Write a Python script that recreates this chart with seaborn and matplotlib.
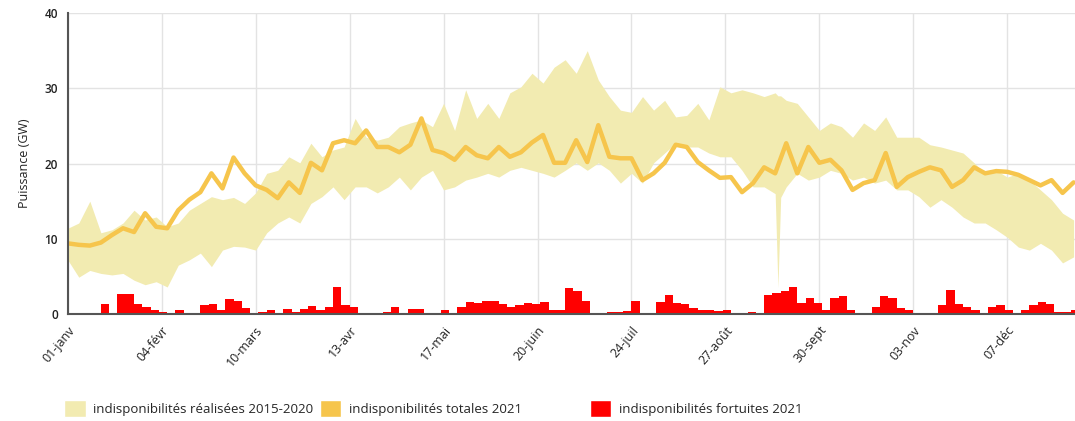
import numpy as np
import pandas as pd
import matplotlib
matplotlib.use("Agg")
import matplotlib.pyplot as plt
import seaborn as sns
from matplotlib.patches import Patch

# Ticks of the x axis (day of year -> label)
jours_ticks = [0, 34, 68, 102, 136, 170, 204, 238, 272, 306, 340]
labels_ticks = ["01-janv", "04-févr", "10-mars", "13-avr", "17-mai", "20-juin",
                "24-juil", "27-août", "30-sept", "03-nov", "07-déc"]

# 2021 total unavailability, every 4 days (GW)
jours_2021 = list(range(0, 365, 4))
totales_2021 = [9.4, 9.2, 9.1, 9.5, 10.5, 11.4, 10.9, 13.4, 11.6, 11.4,
                13.8, 15.2, 16.2, 18.7, 16.7, 20.8, 18.7, 17.1, 16.5, 15.4,
                17.5, 16.1, 20.1, 19.1, 22.7, 23.1, 22.7, 24.4, 22.2, 22.2,
                21.5, 22.5, 26.0, 21.8, 21.4, 20.5, 22.2, 21.1, 20.7, 22.2,
                20.9, 21.5, 22.8, 23.8, 20.1, 20.1, 23.1, 20.2, 25.1, 20.9,
                20.7, 20.7, 17.8, 18.7, 20.1, 22.5, 22.2, 20.2, 19.1, 18.1,
                18.2, 16.2, 17.4, 19.5, 18.7, 22.7, 18.7, 22.2, 20.1, 20.5,
                19.1, 16.5, 17.4, 17.8, 21.4, 16.9, 18.2, 18.9, 19.5, 19.1,
                16.9, 17.8, 19.5, 18.7, 19.0, 18.9, 18.5, 17.8, 17.1, 17.8,
                16.1, 17.5]

# 2015-2020 envelope (min / max), every 4 days plus the late-August dip
jours_bande = list(range(0, 257, 4)) + [257, 258] + list(range(260, 365, 4))
bande_max = [11.4, 12.1, 15.0, 10.8, 11.2, 12.1, 13.8, 12.5, 12.9, 11.6,
             12.1, 13.8, 14.7, 15.6, 15.2, 15.5, 14.7, 16.1, 18.7, 19.1,
             20.9, 20.1, 22.7, 20.9, 21.8, 22.2, 26.0, 23.5, 23.1, 23.5,
             24.9, 25.4, 25.8, 24.9, 28.0, 24.4, 29.8, 26.0, 28.0, 26.0,
             29.4, 30.2, 32.0, 30.7, 32.8, 33.8, 32.0, 35.0, 31.1, 28.9,
             27.1, 26.8, 28.9, 27.1, 28.4, 26.2, 26.4, 28.0, 25.8, 30.2,
             29.4, 29.8, 29.4, 28.9, 29.4, 29.0, 29.0,
             28.4, 28.0, 26.2, 24.4, 25.4, 24.9, 23.5, 25.4, 24.4, 26.2,
             23.5, 23.5, 23.5, 22.5, 22.2, 21.8, 21.4, 20.1, 18.7, 19.1,
             18.2, 18.7, 17.8, 16.5, 15.2, 13.4, 12.5]
bande_min = [7.2, 4.9, 5.8, 5.4, 5.2, 5.4, 4.5, 3.9, 4.3, 3.6,
             6.5, 7.2, 8.1, 6.3, 8.5, 9.0, 8.9, 8.5, 10.8, 12.1,
             12.9, 12.1, 14.7, 15.6, 16.9, 15.2, 16.9, 16.9, 16.1, 16.9,
             18.2, 16.5, 18.2, 19.1, 16.5, 16.9, 17.8, 18.2, 18.7, 18.2,
             19.1, 19.5, 19.1, 18.7, 18.2, 19.1, 20.1, 19.1, 20.1, 19.1,
             17.4, 18.7, 17.4, 20.1, 21.4, 22.7, 22.2, 22.2, 21.4, 20.9,
             20.9, 19.1, 16.9, 16.9, 16.0, 3.5, 15.5,
             16.9, 18.7, 17.8, 18.2, 19.1, 18.7, 17.8, 18.2, 17.4, 17.8,
             16.5, 16.5, 15.6, 14.2, 15.2, 14.2, 12.9, 12.1, 12.1, 11.2,
             10.2, 8.9, 8.5, 9.4, 8.5, 6.8, 7.6]

# 2021 forced outages, every 3 days (GW)
jours_fortuit = list(range(0, 365, 3))
fortuites_2021 = [0, 0, 0, 0, 1.3, 0, 2.7, 2.7, 1.3, 1.0,
                  0.5, 0.3, 0.1, 0.5, 0.2, 0.2, 1.2, 1.3, 0.6, 2.0,
                  1.8, 0.8, 0, 0.3, 0.5, 0, 0.7, 0.3, 0.7, 1.1,
                  0.6, 1.0, 3.6, 1.2, 0.9, 0.1, 0.2, 0, 0.3, 0.9,
                  0.1, 0.7, 0.7, 0.1, 0.2, 0.6, 0.2, 1.0, 1.6, 1.5,
                  1.8, 1.7, 1.4, 1.0, 1.2, 1.5, 1.4, 1.6, 0.6, 0.5,
                  3.5, 3.0, 1.8, 0.1, 0.1, 0.3, 0.3, 0.4, 1.7, 0.2,
                  0.2, 1.6, 2.5, 1.5, 1.3, 0.8, 0.6, 0.5, 0.4, 0.6,
                  0.1, 0, 0.3, 0.1, 2.6, 2.8, 3.0, 3.6, 1.5, 2.1,
                  1.5, 0.6, 2.2, 2.4, 0.5, 0.1, 0.1, 1.0, 2.4, 2.2,
                  0.8, 0.5, 0, 0.1, 0.1, 1.2, 3.2, 1.4, 0.9, 0.5,
                  0.1, 1.0, 1.2, 0.5, 0.1, 0.6, 1.2, 1.6, 1.4, 0.3,
                  0.3, 0.6]

df_tot = pd.DataFrame({"jour": jours_2021, "GW": totales_2021})

# colours
c_bande = "#f2ebb1"
c_tot = "#f6c54c"
c_fort = "#ff0000"

sns.set_theme(style="whitegrid")
plt.rcParams["font.family"] = ["Open Sans", "DejaVu Sans"]

fig = plt.figure(figsize=(10.75, 4.21), dpi=100)
ax = fig.add_axes([0.063, 0.254, 0.937, 0.715])

ax.fill_between(jours_bande, bande_min, bande_max, color=c_bande, linewidth=0, zorder=2)
sns.lineplot(data=df_tot, x="jour", y="GW", ax=ax, color=c_tot, linewidth=3.2, zorder=3)
ax.bar(jours_fortuit, fortuites_2021, width=3, align="edge", color=c_fort, linewidth=0, zorder=4)

ax.set_xlim(0, 364.5)
ax.set_ylim(0, 40)
ax.set_yticks([0, 10, 20, 30, 40])
ax.set_xticks(jours_ticks)
ax.set_xticklabels(labels_ticks, rotation=50, ha="right", rotation_mode="anchor")
ax.set_xlabel("")
ax.set_ylabel("Puissance (GW)", fontsize=9, color="#222222", labelpad=10)

ax.grid(True, color="#e3e3e3", linewidth=1)
for s in ["top", "right"]:
    ax.spines[s].set_visible(False)
for s in ["left", "bottom"]:
    ax.spines[s].set_visible(True)
    ax.spines[s].set_color("#555555")
    ax.spines[s].set_linewidth(1.5)
    ax.spines[s].set_zorder(5)
ax.tick_params(axis="both", labelsize=9, colors="#222222", length=4, width=1, pad=3)
ax.tick_params(axis="y", labelsize=8.5)
for t in ax.get_yticklabels():
    t.set_fontweight("semibold")

# legend, three separate entries along the bottom
entrees = [
    (Patch(facecolor=c_bande), "indisponibilités réalisées 2015-2020", 0.055),
    (Patch(facecolor=c_tot), "indisponibilités totales 2021", 0.293),
    (Patch(facecolor=c_fort), "indisponibilités fortuites 2021", 0.544),
]
for h, lab, xpos in entrees:
    fig.legend([h], [lab], loc="center left", bbox_to_anchor=(xpos, 0.03),
               frameon=False, fontsize=9.5, handlelength=1.6, handleheight=1.6,
               handletextpad=0.6, borderaxespad=0)

fig.savefig("out.png", dpi=100)
